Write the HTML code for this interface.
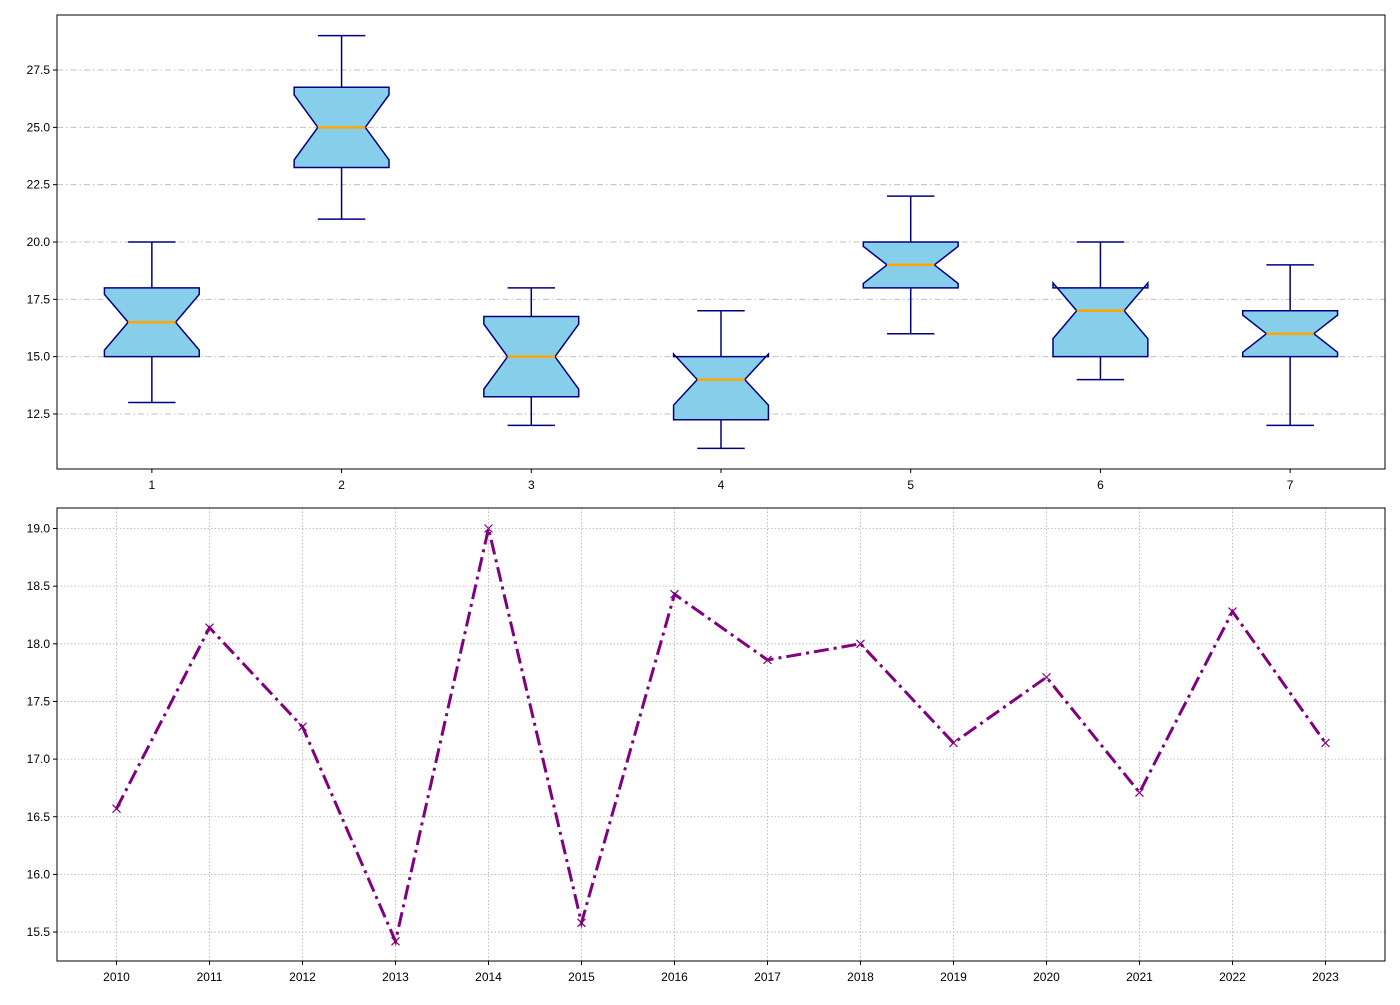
<!DOCTYPE html>
<html><head><meta charset="utf-8"><style>
body{margin:0;background:#fff;}
svg text{font-family:"Liberation Sans",sans-serif;font-size:12px;fill:#000;}
</style></head><body>
<svg id="chart" width="1400" height="1000" xmlns="http://www.w3.org/2000/svg">
<rect width="1400" height="1000" fill="#fff"/>
<g id="top"></g>
<g id="bot"></g>
</svg>
<script>
const boxLabels=['1','2','3','4','5','6','7'];
const whiskLow=[13,21,12,11,16,14,12];
const q1=[15,23.25,13.25,12.25,18,15,15];
const medians=[16.5,25,15,14,19,17,16];
const q3=[18,26.75,16.75,15,20,18,17];
const whiskHigh=[20,29,18,17,22,20,19];
const boxYTicks=[12.5,15.0,17.5,20.0,22.5,25.0,27.5];
const years=[2010,2011,2012,2013,2014,2015,2016,2017,2018,2019,2020,2021,2022,2023];
const values=[16.57,18.14,17.28,15.42,19.0,15.58,18.43,17.86,18.0,17.14,17.71,16.71,18.28,17.14];
const lineYTicks=[15.5,16.0,16.5,17.0,17.5,18.0,18.5,19.0];

const NS='http://www.w3.org/2000/svg';
function mk(parent,tag,attrs,text){const e=document.createElementNS(NS,tag);for(const k in attrs)e.setAttribute(k,attrs[k]);if(text!==undefined)e.textContent=text;parent.appendChild(e);return e;}

// top panel
const T=document.getElementById('top');
const L=57,R=1385,tT=15,tB=469;
const tx=v=>L+(v-0.5)/7*(R-L);
const ty=v=>tB-(v-10.1)/(29.9-10.1)*(tB-tT);
boxYTicks.forEach(v=>{
  let g=mk(T,'line',{x1:L,x2:R,y1:ty(v),y2:ty(v),stroke:'#b0b0b0','stroke-width':1,'stroke-dasharray':'6,3,1.5,3',opacity:0.8});
  
  
  let t=mk(T,'line',{x1:L-4,x2:L,y1:ty(v),y2:ty(v),stroke:'#000'});
  let lb=mk(T,'text',{x:L-7,y:ty(v)+4,'text-anchor':'end'},v.toFixed(1));
  
  
});
boxLabels.forEach((lab,i)=>{
  const c=tx(i+1),hw=(tx(1.25)-tx(1)),nw=hw/2;
  const nh=1.57*(q3[i]-q1[i])/Math.sqrt(15);
  const nl=medians[i]-nh,nu=medians[i]+nh;
  const g=mk(T,'g',{});
  
  
  mk(g,'line',{x1:c,x2:c,y1:ty(whiskLow[i]),y2:ty(q1[i]),stroke:'#000080','stroke-width':1.5});
  mk(g,'line',{x1:c,x2:c,y1:ty(whiskHigh[i]),y2:ty(q3[i]),stroke:'#000080','stroke-width':1.5});
  mk(g,'line',{x1:c-hw/2,x2:c+hw/2,y1:ty(whiskLow[i]),y2:ty(whiskLow[i]),stroke:'#000080','stroke-width':1.5});
  mk(g,'line',{x1:c-hw/2,x2:c+hw/2,y1:ty(whiskHigh[i]),y2:ty(whiskHigh[i]),stroke:'#000080','stroke-width':1.5});
  const pts=[[c-hw,q1[i]],[c-hw,nl],[c-nw,medians[i]],[c-hw,nu],[c-hw,q3[i]],[c+hw,q3[i]],[c+hw,nu],[c+nw,medians[i]],[c+hw,nl],[c+hw,q1[i]]];
  mk(g,'polygon',{points:pts.map(p=>p[0]+','+ty(p[1])).join(' '),fill:'#87ceeb',stroke:'#000080','stroke-width':1.5,'stroke-linejoin':'miter'});
  mk(g,'line',{x1:c-nw,x2:c+nw,y1:ty(medians[i]),y2:ty(medians[i]),stroke:'#ffa500','stroke-width':2.5});
  mk(T,'line',{x1:c,x2:c,y1:tB,y2:tB+4,stroke:'#000'});
  let lb=mk(T,'text',{x:c,y:tB+20,'text-anchor':'middle'},lab);
  
  
});
mk(T,'rect',{x:L,y:tT,width:R-L,height:tB-tT,fill:'none',stroke:'#000','stroke-width':1});

// bottom panel
const B=document.getElementById('bot');
const bT=508,bB=961;
const bx=y=>L+(y-2009.36)/(2023.64-2009.36)*(R-L);
const by=v=>528.5-(v-19.0)*115.3;
years.forEach(y=>{
  let g=mk(B,'line',{x1:bx(y),x2:bx(y),y1:bT,y2:bB,stroke:'#b0b0b0','stroke-width':0.8,'stroke-dasharray':'1.5,2'});
  
  
  mk(B,'line',{x1:bx(y),x2:bx(y),y1:bB,y2:bB+4,stroke:'#000'});
  let lb=mk(B,'text',{x:bx(y),y:bB+20,'text-anchor':'middle'},String(y));
  
  
});
lineYTicks.forEach(v=>{
  let g=mk(B,'line',{x1:L,x2:R,y1:by(v),y2:by(v),stroke:'#b0b0b0','stroke-width':0.8,'stroke-dasharray':'1.5,2'});
  
  
  mk(B,'line',{x1:L-4,x2:L,y1:by(v),y2:by(v),stroke:'#000'});
  let lb=mk(B,'text',{x:L-7,y:by(v)+4,'text-anchor':'end'},v.toFixed(1));
  
  
});
const line=mk(B,'polyline',{points:years.map((y,i)=>bx(y)+','+by(values[i])).join(' '),fill:'none',stroke:'#800080','stroke-width':3,'stroke-dasharray':'15,5,3,5'});


years.forEach((y,i)=>{
  const x=bx(y),yy=by(values[i]),s=4;
  const m=mk(B,'path',{d:`M${x-s},${yy-s}L${x+s},${yy+s}M${x-s},${yy+s}L${x+s},${yy-s}`,stroke:'#800080','stroke-width':1.2});
  
  
});
mk(B,'rect',{x:L,y:bT,width:R-L,height:bB-bT,fill:'none',stroke:'#000','stroke-width':1});
</script>
</body></html>
